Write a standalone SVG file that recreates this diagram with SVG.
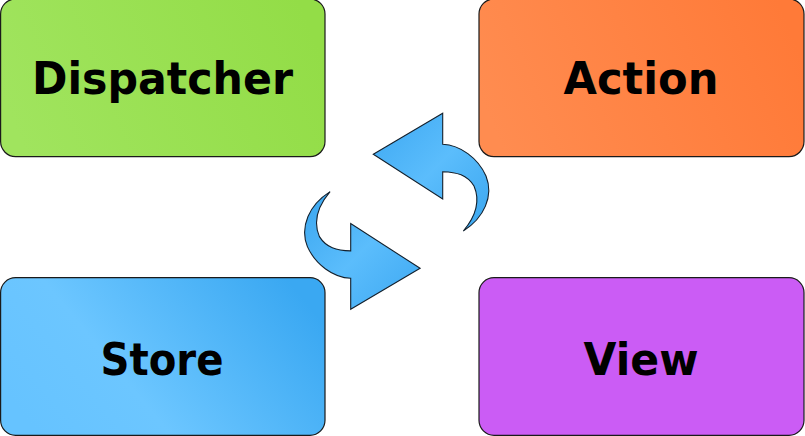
<svg xmlns="http://www.w3.org/2000/svg" width="805" height="436" viewBox="0 0 805 436">
<defs>
<linearGradient id="gGreen" x1="0" y1="0.6" x2="1" y2="0.4"><stop offset="0" stop-color="#a0e45e"/><stop offset="1" stop-color="#93dd47"/></linearGradient>
<linearGradient id="gOrange" x1="0" y1="0.6" x2="1" y2="0.4"><stop offset="0" stop-color="#ff8c50"/><stop offset="1" stop-color="#ff7a38"/></linearGradient>
<linearGradient id="gBlue" x1="0" y1="0.7" x2="1" y2="0.3"><stop offset="0" stop-color="#66c3ff"/><stop offset="0.35" stop-color="#6cc6ff"/><stop offset="1" stop-color="#3aa8f2"/></linearGradient>
<linearGradient id="gArrow" x1="0" y1="0" x2="1" y2="1"><stop offset="0" stop-color="#3da8f2"/><stop offset="0.5" stop-color="#5bbdfc"/><stop offset="1" stop-color="#3aa6ef"/></linearGradient>
<path id="arrow" d="M373.3 154.3 L442.7 113.3 L442.7 144.3 C460 145, 478 158, 486 176 C494 196, 484 218, 463.3 231 C476 216, 480 200, 474 186 C467 175, 457 172, 442.7 171.7 L442.7 199 Z"/>
</defs>
<style>
.box{stroke:#1a1a1a;stroke-width:1.2}
.lbl{font-family:"DejaVu Sans","Liberation Sans",sans-serif;font-weight:bold;font-size:45px;text-anchor:middle;fill:#000}
.arr{fill:url(#gArrow);stroke:#14202c;stroke-width:1.1}
</style>
<g id="dispatcher"><rect class="box" x="0.6" y="-1" width="324.4" height="157.6" rx="15" fill="url(#gGreen)"/><text class="lbl" x="162.5" y="94" textLength="261" lengthAdjust="spacingAndGlyphs">Dispatcher</text></g>
<g id="action"><rect class="box" x="479" y="-1" width="325" height="157.6" rx="15" fill="url(#gOrange)"/><text class="lbl" x="641" y="94" textLength="155" lengthAdjust="spacingAndGlyphs">Action</text></g>
<g id="store"><rect class="box" x="0.6" y="277.7" width="324.4" height="157.6" rx="15" fill="url(#gBlue)"/><text class="lbl" x="162" y="375" textLength="123" lengthAdjust="spacingAndGlyphs">Store</text></g>
<g id="view"><rect class="box" x="479" y="277.7" width="325" height="157.6" rx="15" fill="#cb5cf5"/><text class="lbl" x="641" y="375" textLength="115" lengthAdjust="spacingAndGlyphs">View</text></g>
<g id="connectors">
<use href="#arrow" class="arr"/>
<use href="#arrow" class="arr" transform="rotate(180 396.7 211.3)"/>
</g>
</svg>
